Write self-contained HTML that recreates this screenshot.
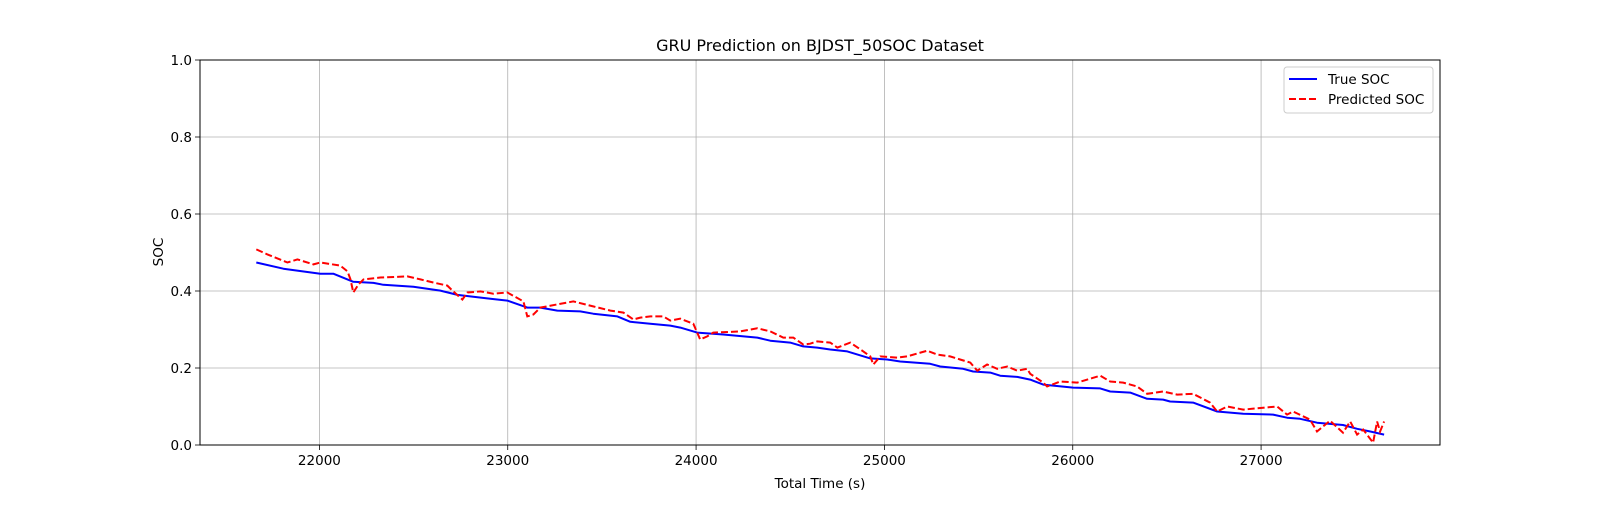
<!DOCTYPE html>
<html><head><meta charset="utf-8"><style>
body{margin:0;background:#fff}
svg text{font-family:"DejaVu Sans","Liberation Sans",sans-serif;fill:#000}
</style></head><body>
<svg id="chart" width="1600" height="500" xmlns="http://www.w3.org/2000/svg">
<rect width="1600" height="500" fill="#fff"/>
<g id="grid"></g>
<g id="series"></g>
<rect x="200" y="60" width="1240" height="385" fill="none" stroke="#000" stroke-width="1"/>
<g id="ticks"></g>
<text x="820" y="51" font-size="16" text-anchor="middle">GRU Prediction on BJDST_50SOC Dataset</text>
<text x="820" y="488" font-size="13.5" text-anchor="middle">Total Time (s)</text>
<text x="163" y="252" font-size="13.5" text-anchor="middle" transform="rotate(-90 163 252)">SOC</text>
<g>
<rect x="1284" y="67" width="149" height="46" rx="3" fill="#fff" fill-opacity="0.8" stroke="#ccc"/>
<line x1="1289" y1="79" x2="1317" y2="79" stroke="#0000ff" stroke-width="2"/>
<text x="1328" y="84" font-size="13.5">True SOC</text>
<line x1="1289" y1="99" x2="1317" y2="99" stroke="#ff0000" stroke-width="2" stroke-dasharray="7,3"/>
<text x="1328" y="104" font-size="13.5">Predicted SOC</text>
</g>
</svg>
<script>
const xTicks=[22000,23000,24000,25000,26000,27000];
const yTicks=[0,0.2,0.4,0.6,0.8,1.0];
const yTickLabels=["0.0","0.2","0.4","0.6","0.8","1.0"];
const trueT=[21665,21809,22005,22074,22180,22287,22340,22499,22573,22642,22733,22817,22908,22998,23104,23173,23263,23385,23454,23582,23651,23757,23863,23916,24006,24144,24325,24394,24500,24569,24643,24712,24803,24925,25015,25084,25243,25296,25418,25471,25562,25615,25705,25774,25843,26002,26146,26199,26305,26395,26480,26517,26639,26767,26905,27064,27138,27207,27297,27435,27510,27580,27653];
const trueSOC=[.474,.458,.445,.445,.424,.421,.416,.411,.406,.401,.390,.385,.380,.375,.357,.357,.349,.347,.341,.334,.320,.315,.310,.305,.292,.287,.279,.271,.266,.256,.253,.248,.243,.225,.222,.217,.211,.204,.198,.191,.188,.180,.177,.170,.157,.149,.147,.139,.136,.120,.118,.113,.110,.087,.081,.079,.071,.068,.058,.052,.042,.035,.027];
const predT=[21665,21724,21830,21883,21968,22005,22111,22149,22165,22180,22207,22234,22324,22467,22536,22605,22679,22711,22759,22786,22855,22924,22998,23083,23104,23136,23173,23348,23454,23545,23614,23667,23704,23757,23826,23863,23916,23985,24022,24059,24091,24235,24325,24394,24463,24516,24569,24606,24643,24712,24750,24819,24888,24925,24941,24978,25068,25121,25227,25280,25349,25402,25456,25493,25545,25599,25652,25705,25758,25774,25843,25864,25933,26024,26146,26199,26268,26342,26395,26480,26554,26639,26729,26767,26820,26905,27085,27138,27170,27260,27297,27366,27435,27473,27510,27542,27595,27616,27632,27653];
const predSOC=[.508,.495,.474,.482,.469,.474,.466,.451,.430,.396,.417,.430,.435,.438,.430,.422,.414,.399,.378,.396,.399,.393,.396,.373,.334,.339,.357,.373,.360,.349,.344,.326,.331,.334,.334,.323,.328,.315,.274,.282,.292,.295,.303,.295,.279,.279,.261,.263,.269,.266,.253,.266,.243,.230,.209,.230,.227,.230,.245,.235,.230,.222,.214,.193,.209,.198,.204,.193,.198,.185,.162,.152,.165,.162,.180,.165,.162,.152,.133,.139,.131,.133,.110,.087,.100,.092,.100,.079,.087,.066,.035,.063,.032,.061,.027,.040,.006,.061,.035,.061];
const X0=21366,X1=27950,PL=200,PR=1440,PT=60,PB=445;
function sx(t){return PL+(t-X0)/(X1-X0)*(PR-PL);}
function sy(v){return PB-v*(PB-PT);}
const NS="http://www.w3.org/2000/svg";
const grid=document.getElementById('grid'),ticks=document.getElementById('ticks'),series=document.getElementById('series');
function mk(tag,attrs,parent){const e=document.createElementNS(NS,tag);for(const k in attrs)e.setAttribute(k,attrs[k]);parent.appendChild(e);return e;}
xTicks.forEach(t=>{const x=sx(t);
 const g=mk('line',{x1:x,x2:x,y1:PT,y2:PB,stroke:'#b0b0b0','stroke-width':0.8},grid);
 
 
 const tk=mk('line',{x1:x,x2:x,y1:PB,y2:PB+5,stroke:'#000','stroke-width':0.8},ticks);
 
 
 const lb=mk('text',{x:x,y:PB+20,'font-size':13.5,'text-anchor':'middle'},ticks);lb.textContent=String(t);
 
 
});
yTicks.forEach((v,i)=>{const y=sy(v);
 const g=mk('line',{x1:PL,x2:PR,y1:y,y2:y,stroke:'#b0b0b0','stroke-width':0.8},grid);
 
 
 const tk=mk('line',{x1:PL-5,x2:PL,y1:y,y2:y,stroke:'#000','stroke-width':0.8},ticks);
 
 
 const lb=mk('text',{x:PL-8,y:y+5,'font-size':13.5,'text-anchor':'end'},ticks);lb.textContent=yTickLabels[i];
 
 
});
function path(ts,vs){return ts.map((t,i)=>(i?'L':'M')+sx(t).toFixed(1)+','+sy(vs[i]).toFixed(1)).join(' ');}
const tl=mk('path',{d:path(trueT,trueSOC),fill:'none',stroke:'#0000ff','stroke-width':2,'stroke-linejoin':'round'},series);


const pl=mk('path',{d:path(predT,predSOC),fill:'none',stroke:'#ff0000','stroke-width':2,'stroke-dasharray':'7,3'},series);


</script>
</body></html>
